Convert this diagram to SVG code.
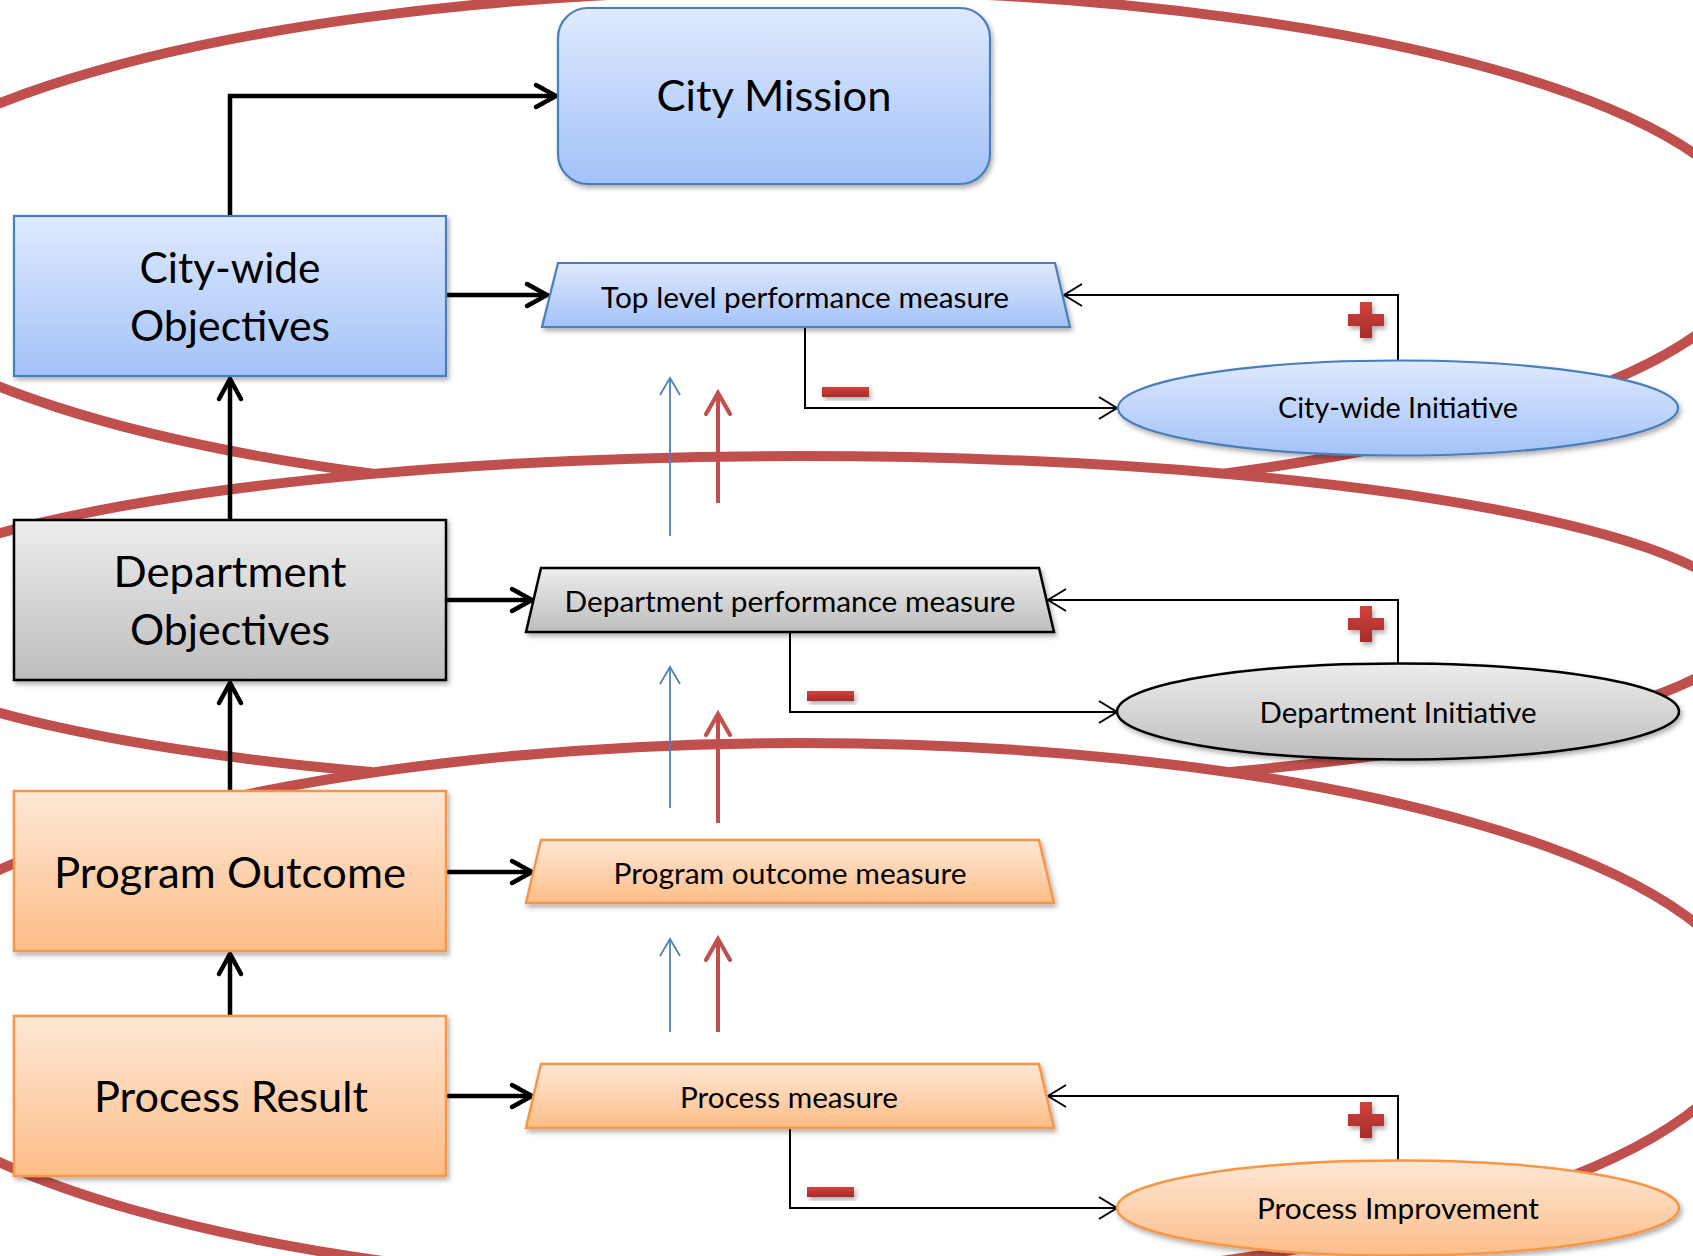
<svg xmlns="http://www.w3.org/2000/svg" width="1693" height="1256" viewBox="0 0 1693 1256">
<style>
.loop{fill:none;stroke:#C0504D;stroke-width:10}
.lbl{font-family:Lato,"Open Sans","DejaVu Sans",sans-serif;fill:#000;text-anchor:middle}
.big{font-size:42px}
.small{font-size:28px}
.blue{fill:url(#gBlue);stroke:#4A7EBB;stroke-width:2.2}
.gray{fill:url(#gGray);stroke:#000;stroke-width:2.5}
.orange{fill:url(#gOrange);stroke:#F79646;stroke-width:2.5}
.sh{filter:url(#sh)}
.thick{fill:none;stroke:#000;stroke-width:4.5;marker-end:url(#ahThick)}
.thin{fill:none;stroke:#000;stroke-width:2;marker-end:url(#ahThin)}
.upb{fill:none;stroke:#4F81BD;stroke-width:1.8;marker-end:url(#ahBlue)}
.upr{fill:none;stroke:#C0504D;stroke-width:4;marker-end:url(#ahRed)}
.sign{fill:url(#gRed);filter:url(#sh)}
</style>
<defs>
<linearGradient id="gBlue" x1="0" y1="0" x2="0" y2="1"><stop offset="0" stop-color="#DFEAFD"/><stop offset="1" stop-color="#A3C2F8"/></linearGradient>
<linearGradient id="gGray" x1="0" y1="0" x2="0" y2="1"><stop offset="0" stop-color="#EDEDED"/><stop offset="1" stop-color="#BDBDBD"/></linearGradient>
<linearGradient id="gOrange" x1="0" y1="0" x2="0" y2="1"><stop offset="0" stop-color="#FEE8D6"/><stop offset="1" stop-color="#FCBD88"/></linearGradient>
<linearGradient id="gRed" x1="0" y1="0" x2="0" y2="1"><stop offset="0" stop-color="#D4423E"/><stop offset="1" stop-color="#A52D2A"/></linearGradient>
<filter id="sh" x="-10%" y="-10%" width="130%" height="150%"><feDropShadow dx="2" dy="3" stdDeviation="2.5" flood-color="#000" flood-opacity="0.32"/></filter>
<marker id="ahThick" viewBox="-26 -15 32 30" refX="0" refY="0" markerWidth="32" markerHeight="30" markerUnits="userSpaceOnUse" orient="auto" overflow="visible"><path d="M-20,-11 L0,0 L-20,11" fill="none" stroke="#000" stroke-width="4.5" stroke-linecap="round"/></marker>
<marker id="ahThin" viewBox="-24 -14 30 28" refX="0" refY="0" markerWidth="30" markerHeight="28" markerUnits="userSpaceOnUse" orient="auto" overflow="visible"><path d="M-18,-11 L0,0 L-18,11" fill="none" stroke="#000" stroke-width="2"/></marker>
<marker id="ahBlue" viewBox="-22 -13 28 26" refX="0" refY="0" markerWidth="28" markerHeight="26" markerUnits="userSpaceOnUse" orient="auto" overflow="visible"><path d="M-17,-10 L0,0 L-17,10" fill="none" stroke="#4F81BD" stroke-width="1.8"/></marker>
<marker id="ahRed" viewBox="-26 -15 32 30" refX="0" refY="0" markerWidth="32" markerHeight="30" markerUnits="userSpaceOnUse" orient="auto" overflow="visible"><path d="M-21,-12 L0,0 L-21,12" fill="none" stroke="#C0504D" stroke-width="4.2" stroke-linecap="round"/></marker>
<path id="plus" d="M-6,-18 H6 V-6 H18 V6 H6 V18 H-6 V6 H-18 V-6 H-6 Z"/>
</defs>
<rect width="1693" height="1256" fill="#fff"/>

<g id="loops">
<path class="loop" d="M373,473.7 A960,255 0 1 1 1225,473.4"/>
<path class="loop" d="M372,772.1 A949,167 0 1 1 1230,771.9"/>
<ellipse class="loop" cx="802" cy="1016" rx="950" ry="273"/>
</g>

<g id="connectors">
<path class="thick" d="M230,216 V96 H556"/>
<path class="thick" d="M230,520 V379"/>
<path class="thick" d="M230,791 V683"/>
<path class="thick" d="M230,1016 V954"/>
<path class="thick" d="M446,295 H547"/>
<path class="thick" d="M446,600 H532"/>
<path class="thick" d="M446,872 H532"/>
<path class="thick" d="M446,1096 H532"/>
<path class="thin" d="M1398,360 V295 H1064"/>
<path class="thin" d="M805,327 V408 H1117"/>
<path class="thin" d="M1398,663 V600 H1048"/>
<path class="thin" d="M790,632 V712 H1117"/>
<path class="thin" d="M1398,1160 V1096 H1048"/>
<path class="thin" d="M790,1128 V1208 H1117"/>
<path class="upb" d="M670,536 V378"/>
<path class="upr" d="M718,503 V393"/>
<path class="upb" d="M670,808 V667"/>
<path class="upr" d="M718,823 V714"/>
<path class="upb" d="M670,1032 V939"/>
<path class="upr" d="M718,1032 V939"/>
<g id="signs">
<use href="#plus" class="sign" x="1366" y="320"/>
<use href="#plus" class="sign" x="1366" y="624"/>
<use href="#plus" class="sign" x="1366" y="1120"/>
<rect class="sign" x="822" y="387" width="47" height="10"/>
<rect class="sign" x="807" y="691" width="47" height="10"/>
<rect class="sign" x="807" y="1187" width="47" height="10"/>
</g>
</g>

<g id="city-mission">
<rect class="blue sh" x="558" y="8" width="432" height="176" rx="30" ry="30"/>
<text class="lbl big" x="774" y="111" textLength="235" lengthAdjust="spacingAndGlyphs">City Mission</text>
</g>
<g id="citywide-objectives">
<rect class="blue sh" x="14" y="216" width="432" height="160"/>
<text class="lbl big" x="230" y="283" textLength="181" lengthAdjust="spacingAndGlyphs">City-wide</text>
<text class="lbl big" x="230" y="341" textLength="200" lengthAdjust="spacingAndGlyphs">Objectives</text>
</g>
<g id="department-objectives">
<rect class="gray sh" x="14" y="520" width="432" height="160"/>
<text class="lbl big" x="230" y="587" textLength="233" lengthAdjust="spacingAndGlyphs">Department</text>
<text class="lbl big" x="230" y="645" textLength="200" lengthAdjust="spacingAndGlyphs">Objectives</text>
</g>
<g id="program-outcome">
<rect class="orange sh" x="14" y="791" width="432" height="160"/>
<text class="lbl big" x="230" y="888" textLength="352" lengthAdjust="spacingAndGlyphs">Program Outcome</text>
</g>
<g id="process-result">
<rect class="orange sh" x="14" y="1016" width="432" height="160"/>
<text class="lbl big" x="231" y="1112" textLength="274" lengthAdjust="spacingAndGlyphs">Process Result</text>
</g>

<g id="top-level-measure">
<polygon class="blue sh" points="558,263 1055,263 1070,327 542,327"/>
<text class="lbl small" x="805" y="308" textLength="408" lengthAdjust="spacingAndGlyphs">Top level performance measure</text>
</g>
<g id="department-measure">
<polygon class="gray sh" points="541,568 1039,568 1054,632 526,632"/>
<text class="lbl small" x="790" y="612" textLength="451" lengthAdjust="spacingAndGlyphs">Department performance measure</text>
</g>
<g id="program-outcome-measure">
<polygon class="orange sh" points="541,840 1039,840 1054,903 526,903"/>
<text class="lbl small" x="790" y="884" textLength="353" lengthAdjust="spacingAndGlyphs">Program outcome measure</text>
</g>
<g id="process-measure">
<polygon class="orange sh" points="541,1064 1039,1064 1054,1128 526,1128"/>
<text class="lbl small" x="789" y="1108" textLength="218" lengthAdjust="spacingAndGlyphs">Process measure</text>
</g>

<g id="citywide-initiative">
<ellipse class="blue sh" cx="1398" cy="408" rx="280" ry="47.5"/>
<text class="lbl small" x="1398" y="418" textLength="240" lengthAdjust="spacingAndGlyphs">City-wide Initiative</text>
</g>
<g id="department-initiative">
<ellipse class="gray sh" cx="1398" cy="711.5" rx="281" ry="48"/>
<text class="lbl small" x="1398" y="723" textLength="277" lengthAdjust="spacingAndGlyphs">Department Initiative</text>
</g>
<g id="process-improvement">
<ellipse class="orange sh" cx="1398" cy="1208" rx="281" ry="47.5"/>
<text class="lbl small" x="1398" y="1219" textLength="282" lengthAdjust="spacingAndGlyphs">Process Improvement</text>
</g>
</svg>
